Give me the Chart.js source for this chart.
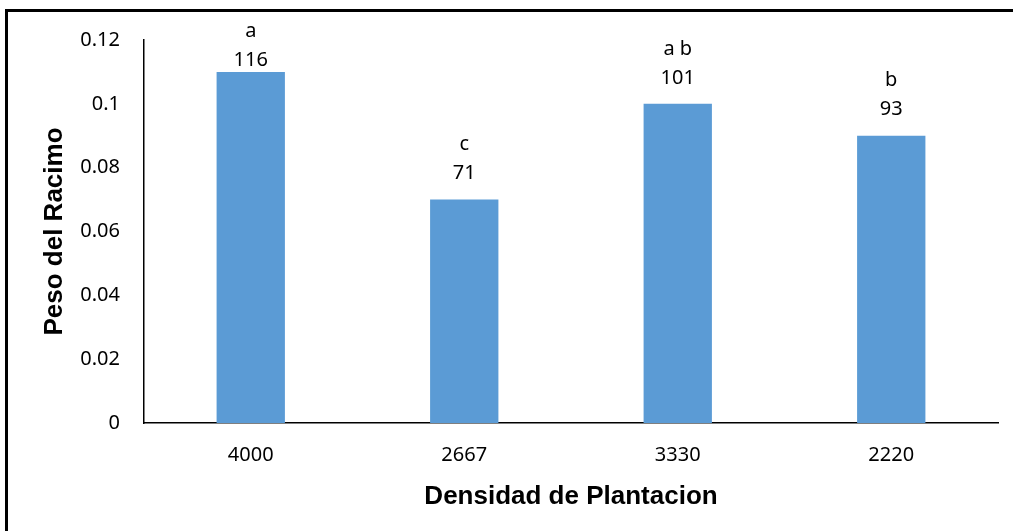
<!DOCTYPE html>
<html>
<head>
<meta charset="utf-8">
<script src="https://cdn.jsdelivr.net/npm/chart.js@4"></script>
<style>
  html, body { margin: 0; padding: 0; background: #fff; }
  #wrap { position: relative; width: 1013px; height: 531px; overflow: hidden; }
  #frame { position: absolute; left: 5px; top: 9px; right: -10px; bottom: -10px;
           border-left: 3px solid #000; border-top: 3px solid #000; pointer-events: none; }
  canvas { position: absolute; left: 0; top: 0; }
</style>
</head>
<body>
<div id="wrap">
  <canvas id="chart" width="1013" height="531"></canvas>
  <div id="frame"></div>
</div>
<script>
const categories = ["4000", "2667", "3330", "2220"];
const pesoValues = [0.11, 0.07, 0.10, 0.09];
const valueLabels = ["116", "71", "101", "93"];
const letterLabels = ["a", "c", "a b", "b"];
const yTicks = [0, 0.02, 0.04, 0.06, 0.08, 0.1, 0.12];

const tickFont = { family: "'Noto Sans', 'Open Sans', sans-serif", size: 20 };
const titleFont = { family: "'Liberation Sans', Arial, sans-serif", size: 26, weight: "bold" };

// etiquetas encima de las barras
const barLabels = {
  id: "barLabels",
  afterDatasetsDraw(chart) {
    const ctx = chart.ctx;
    const meta = chart.getDatasetMeta(0);
    ctx.save();
    ctx.fillStyle = "#000";
    ctx.font = "20px 'Noto Sans', 'Open Sans', sans-serif";
    ctx.textAlign = "center";
    ctx.textBaseline = "middle";
    meta.data.forEach((bar, i) => {
      const numY = Math.max(bar.y - 26, chart.chartArea.top + 20);
      ctx.fillText(valueLabels[i], bar.x, numY);
      ctx.fillText(letterLabels[i], bar.x, numY - 29);
    });
    ctx.restore();
  }
};

new Chart(document.getElementById("chart"), {
  type: "bar",
  data: {
    labels: categories,
    datasets: [{
      data: pesoValues,
      backgroundColor: "#5B9BD5",
      barPercentage: 0.64,
      categoryPercentage: 0.5
    }]
  },
  options: {
    responsive: false,
    animation: false,
    events: [],
    layout: { padding: { left: 0, right: 15, top: 40, bottom: 0 } },
    plugins: { legend: { display: false }, tooltip: { enabled: false } },
    scales: {
      x: {
        grid: { display: false, drawTicks: false },
        border: { color: "#000", width: 1.5 },
        ticks: { color: "#000", font: tickFont, padding: 20 },
        title: { display: true, text: "Densidad de Plantacion", color: "#000", font: titleFont, padding: { top: 0, bottom: 19 } },
        afterFit(scale) { scale.height = 108; }
      },
      y: {
        min: 0,
        max: 0.12,
        grid: { display: false, drawTicks: false },
        border: { color: "#000", width: 1.5 },
        afterBuildTicks(scale) { scale.ticks = yTicks.map(v => ({ value: v })); },
        ticks: {
          color: "#000",
          font: tickFont,
          padding: 24,
          callback: v => String(Math.round(v * 100) / 100)
        },
        title: { display: true, text: "Peso del Racimo", color: "#000", font: titleFont, padding: { top: 39, bottom: 0 } },
        afterFit(scale) { scale.width = 144; }
      }
    }
  },
  plugins: [barLabels]
});
</script>
</body>
</html>
